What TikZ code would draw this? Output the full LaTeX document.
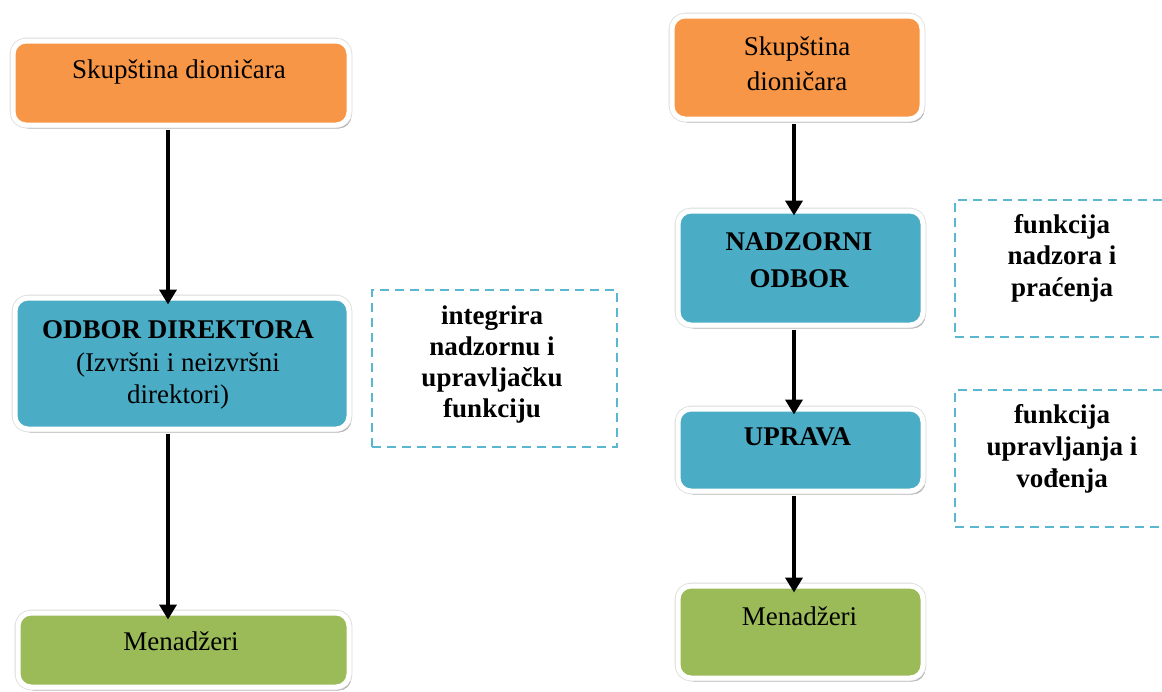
\documentclass[tikz,border=0pt]{standalone}
\usepackage{fontspec}
\setmainfont{Liberation Serif}
\usetikzlibrary{arrows.meta,shadows}
\definecolor{corg}{HTML}{F79646}
\definecolor{cblu}{HTML}{4BACC6}
\definecolor{cgrn}{HTML}{9BBB59}
\definecolor{cdash}{HTML}{5BB6CF}
\tikzset{
  box/.style={draw=white, line width=5pt, rounded corners=13pt, inner sep=0pt,
    drop shadow={shadow xshift=2.5pt, shadow yshift=-3.5pt, fill=black!55, opacity=0.6},
    preaction={draw=black!14, line width=6.6pt}},
  dbox/.style={draw=cdash, line width=1.8pt, dash pattern=on 9pt off 6pt, inner sep=0pt},
  txt/.style={inner sep=0pt, anchor=base, align=center, font=\fontsize{27}{32}\selectfont},
  btxt/.style={txt, font=\fontsize{27}{32}\selectfont\bfseries},
  arr/.style={line width=4.5pt, -{Triangle[width=17pt,length=15pt]}}
}
\begin{document}
\begin{tikzpicture}[x=1pt,y=-1pt]
\useasboundingbox (0,0) rectangle (1162,691);
\clip (0,0) rectangle (1162,691);
% left column boxes
\node[box, fill=corg, minimum width=336pt, minimum height=84pt] (s1) at (181,83) {};
\node[box, fill=cblu, minimum width=334pt, minimum height=131pt] (od) at (182,363.5) {};
\node[box, fill=cgrn, minimum width=331pt, minimum height=74pt] (m1) at (183.5,650) {};
% right column boxes
\node[box, fill=corg, minimum width=250pt, minimum height=103pt] (s2) at (797,67.5) {};
\node[box, fill=cblu, minimum width=245pt, minimum height=114pt] (nd) at (800.5,268) {};
\node[box, fill=cblu, minimum width=245pt, minimum height=82pt] (up) at (800.5,450) {};
\node[box, fill=cgrn, minimum width=245pt, minimum height=92pt] (m2) at (800.5,632) {};
% dashed boxes
\node[dbox, minimum width=245pt, minimum height=157pt] (d1) at (494.5,368.5) {};
\node[dbox, minimum width=215pt, minimum height=137pt] (d2) at (1062.5,268.5) {};
\node[dbox, minimum width=215pt, minimum height=137pt] (d3) at (1062.5,458.5) {};
% texts (base anchor = baseline of the last line)
\node[txt] (s1t) at (179,78) {Skupština dioničara};
\node[btxt] (odt) at (178,403) {ODBOR DIREKTORA\\[1pt]{\mdseries (Izvršni i neizvršni}\\{\mdseries direktori)}};
\node[txt] (m1t) at (181,650) {Menadžeri};
\node[txt, font=\fontsize{27}{35}\selectfont] (s2t) at (797,90) {Skupština\\dioničara};
\node[btxt, font=\fontsize{27}{37}\selectfont\bfseries] (ndt) at (799,287) {NADZORNI\\ODBOR};
\node[btxt] (upt) at (797.5,445) {UPRAVA};
\node[txt] (m2t) at (799.5,625) {Menadžeri};
\node[btxt, font=\fontsize{27}{31}\selectfont\bfseries] (d1t) at (492,417) {integrira\\nadzornu i\\upravljačku\\funkciju};
\node[btxt, font=\fontsize{27}{31.5}\selectfont\bfseries] (d2t) at (1062,296) {funkcija\\nadzora i\\praćenja};
\node[btxt, font=\fontsize{27}{32}\selectfont\bfseries] (d3t) at (1062,487) {funkcija\\upravljanja i\\vođenja};
% arrows
\draw[arr] ([xshift=-13pt,yshift=-2.5pt]s1.south) -- ([xshift=-14pt,yshift=-9pt]od.north);
\draw[arr] ([xshift=-14pt,yshift=-2.5pt]od.south) -- ([xshift=-15.5pt,yshift=-9pt]m1.north);
\draw[arr] ([xshift=-3pt,yshift=-2.5pt]s2.south) -- ([xshift=-6.5pt,yshift=-7pt]nd.north);
\draw[arr] ([xshift=-6.5pt,yshift=-2.5pt]nd.south) -- ([xshift=-6.5pt,yshift=-8pt]up.north);
\draw[arr] ([xshift=-6.5pt,yshift=-2.5pt]up.south) -- ([xshift=-6.5pt,yshift=-9pt]m2.north);
\end{tikzpicture}
\end{document}
